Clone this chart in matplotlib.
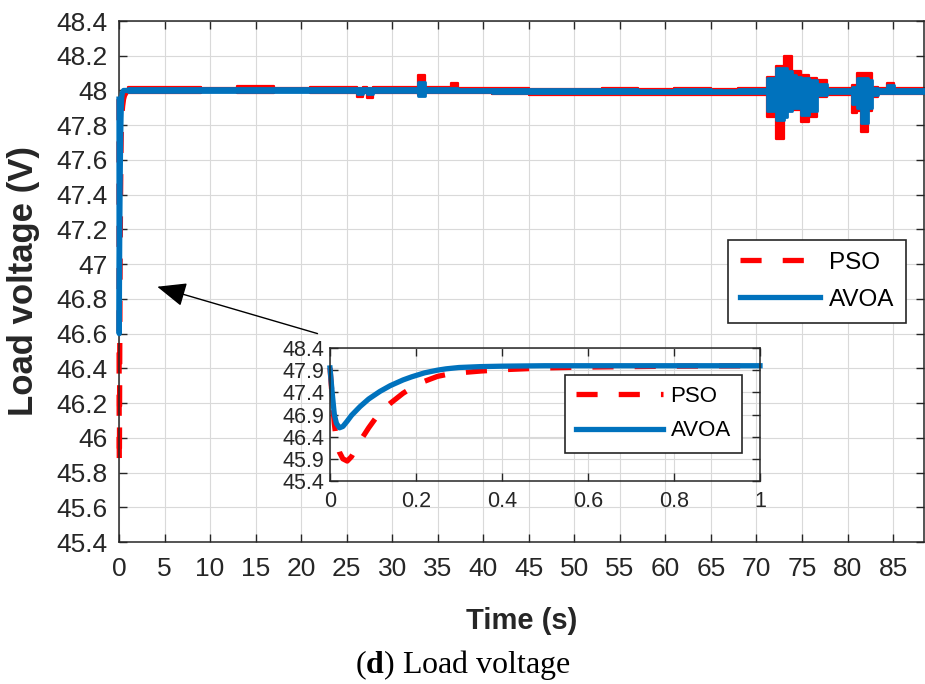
import numpy as np
import matplotlib.pyplot as plt

plt.rcParams['font.family'] = ['Liberation Sans', 'DejaVu Sans']
plt.rcParams['mathtext.fontset'] = 'custom'
plt.rcParams['mathtext.rm'] = 'Liberation Serif'
plt.rcParams['mathtext.bf'] = 'Liberation Serif:bold'

# start-up transient (0 .. 1 s)
t_tr = [0, 0.005, 0.01, 0.015, 0.022, 0.03, 0.04, 0.05, 0.07, 0.09, 0.116, 0.14,
        0.17, 0.19, 0.22, 0.25, 0.27, 0.3, 0.35, 0.4, 0.5, 0.6, 0.8, 1.0]
avoa_tr = [47.95, 47.4, 46.9, 46.7, 46.6, 46.63, 46.75, 46.88, 47.08, 47.25, 47.42, 47.55,
           47.68, 47.75, 47.84, 47.9, 47.93, 47.96, 47.98, 47.99, 48.0, 48.0, 48.0, 48.0]
pso_tr = [47.95, 47.3, 46.7, 46.3, 46.05, 45.9, 45.85, 45.95, 46.3, 46.6, 46.95, 47.15,
          47.38, 47.5, 47.65, 47.76, 47.8, 47.84, 47.88, 47.91, 47.95, 47.97, 47.99, 48.0]

# steady-state envelope (min / max of the ripple) after 1 s, step-wise
t_env = [1, 5, 9, 13, 17, 21, 26.1, 26.8, 27.2, 27.9, 30, 32.8, 33.6, 36.5, 37.2, 41,
         45, 49, 53, 57, 61, 65, 68, 71.2, 72.2, 73.0, 73.4, 73.9, 74.3, 74.9, 75.8,
         76.7, 77.8, 80.5, 81.0, 81.5, 82.2, 82.7, 83.3, 84.3, 85.1, 88.5]
avoa_lo = [47.993, 47.994, 47.993, 47.994, 47.993, 47.994, 47.982, 47.993, 47.982, 47.993,
           47.993, 47.968, 47.992, 47.991, 47.990, 47.988, 47.987, 47.986, 47.986, 47.985,
           47.986, 47.985, 47.986, 47.880, 47.830, 47.850, 47.880, 47.900, 47.900, 47.860,
           47.880, 47.975, 47.986, 47.920, 47.900, 47.810, 47.900, 47.975, 47.987, 47.988,
           47.987, 47.987]
avoa_hi = [48.012, 48.013, 48.012, 48.013, 48.012, 48.013, 48.012, 48.013, 48.012, 48.013,
           48.012, 48.048, 48.012, 48.014, 48.011, 48.008, 48.007, 48.006, 48.006, 48.005,
           48.006, 48.005, 48.006, 48.070, 48.130, 48.130, 48.110, 48.090, 48.080, 48.070,
           48.060, 48.040, 48.006, 48.020, 48.070, 48.070, 48.060, 48.015, 48.007, 48.030,
           48.008, 48.008]
pso_lo = [47.988, 47.985, 47.990, 47.986, 47.989, 47.985, 47.960, 47.988, 47.955, 47.987,
          47.985, 47.975, 47.985, 47.986, 47.984, 47.980, 47.976, 47.975, 47.974, 47.976,
          47.975, 47.974, 47.975, 47.850, 47.720, 47.870, 47.890, 47.890, 47.890, 47.820,
          47.850, 47.960, 47.976, 47.870, 47.880, 47.760, 47.880, 47.960, 47.978, 47.980,
          47.978, 47.978]
pso_hi = [48.018, 48.022, 48.016, 48.024, 48.017, 48.020, 48.016, 48.018, 48.016, 48.020,
          48.018, 48.090, 48.020, 48.045, 48.016, 48.012, 48.010, 48.010, 48.012, 48.010,
          48.012, 48.010, 48.012, 48.080, 48.140, 48.200, 48.200, 48.110, 48.110, 48.090,
          48.070, 48.060, 48.012, 48.030, 48.100, 48.100, 48.100, 48.020, 48.012, 48.045,
          48.012, 48.012]

x_ticks = [0, 5, 10, 15, 20, 25, 30, 35, 40, 45, 50, 55, 60, 65, 70, 75, 80, 85]
y_ticks = [45.4, 45.6, 45.8, 46.0, 46.2, 46.4, 46.6, 46.8, 47.0, 47.2, 47.4, 47.6,
           47.8, 48.0, 48.2, 48.4]
in_x_ticks = [0, 0.2, 0.4, 0.6, 0.8, 1.0]
in_y_ticks = [45.4, 45.9, 46.4, 46.9, 47.4, 47.9, 48.4]

RED = '#ff0000'
BLUE = '#0072bd'
DARK = '#262626'


def matlab_style(a, size, pad):
    a.grid(True, color='#d9d9d9', lw=0.8)
    a.set_axisbelow(True)
    a.tick_params(direction='in', top=True, right=True, length=6, width=1,
                  colors=DARK, labelsize=size, pad=pad)
    for s in a.spines.values():
        s.set_color(DARK)
        s.set_linewidth(1.1)


fig = plt.figure(figsize=(9.25, 6.84), dpi=100)
ax = fig.add_axes([119 / 925, 1 - 542 / 684, 805 / 925, 521 / 684])

ax.plot(t_tr, pso_tr, color=RED, lw=3.8, dashes=(4.0, 4.0), label='PSO', zorder=2,
        clip_on=False)
ax.fill_between(t_env, pso_lo, pso_hi, step='post', color=RED, lw=1.6, zorder=2)
ax.plot(t_tr, avoa_tr, color=BLUE, lw=3.8, label='AVOA', zorder=3, clip_on=False)
ax.fill_between(t_env, avoa_lo, avoa_hi, step='post', color=BLUE, lw=2.0, zorder=3)

ax.set_xlim(0, 88.4)
ax.set_ylim(45.4, 48.4)
ax.set_xticks(x_ticks)
ax.set_xticklabels([f'{v:g}' for v in x_ticks])
ax.set_yticks(y_ticks)
ax.set_yticklabels([f'{v:g}' for v in y_ticks])
matlab_style(ax, 19, 8)
ax.tick_params(axis='x', pad=11)

ax.set_xlabel('Time (s)', fontsize=21, fontweight='bold', color=DARK)
ax.xaxis.set_label_coords(0.5, -0.125)
ax.set_ylabel('Load voltage (V)', fontsize=25, fontweight='bold', color=DARK)
ax.yaxis.set_label_coords(-0.098, 0.5)

leg = ax.legend(loc='upper right', bbox_to_anchor=(0.978, 0.580), fontsize=17.5,
                handlelength=3.3, handletextpad=0.35, labelspacing=0.6,
                borderpad=0.5, borderaxespad=0, fancybox=False, framealpha=1,
                edgecolor=DARK)
leg.get_frame().set_linewidth(1.2)

ax.annotate('', xy=(4.2, 46.87), xytext=(21.8, 46.6),
            arrowprops=dict(arrowstyle='-|>,head_length=0.6,head_width=0.25',
                            color='black', lw=1, mutation_scale=30,
                            shrinkA=0, shrinkB=0))

# zoomed inset of the start-up
axin = fig.add_axes([330 / 925, 1 - 481 / 684, 430 / 925, 133 / 684])
axin.patch.set_alpha(0)
axin.plot(t_tr, pso_tr, color=RED, lw=3.8, dashes=(4.0, 4.0), label='PSO', clip_on=False)
axin.plot(t_tr, avoa_tr, color=BLUE, lw=3.8, label='AVOA', clip_on=False)
axin.set_xlim(0, 1)
axin.set_ylim(45.4, 48.4)
axin.set_xticks(in_x_ticks)
axin.set_xticklabels([f'{v:g}' for v in in_x_ticks])
axin.set_yticks(in_y_ticks)
axin.set_yticklabels([f'{v:g}' for v in in_y_ticks])
matlab_style(axin, 15.5, 4)
axin.tick_params(axis='x', pad=7)

leg2 = axin.legend(loc='upper right', bbox_to_anchor=(0.958, 0.797), fontsize=16,
                   handlelength=3.9, handletextpad=0.35, labelspacing=0.6,
                   borderpad=0.5, borderaxespad=0, fancybox=False, framealpha=1,
                   edgecolor=DARK)
leg2.get_frame().set_linewidth(1.2)

fig.text(0.5, 1 - 665 / 684, r'($\mathbf{d}$) Load voltage', ha='center', va='center',
         fontsize=23, family='Liberation Serif')

fig.savefig('out.png', dpi=100)
